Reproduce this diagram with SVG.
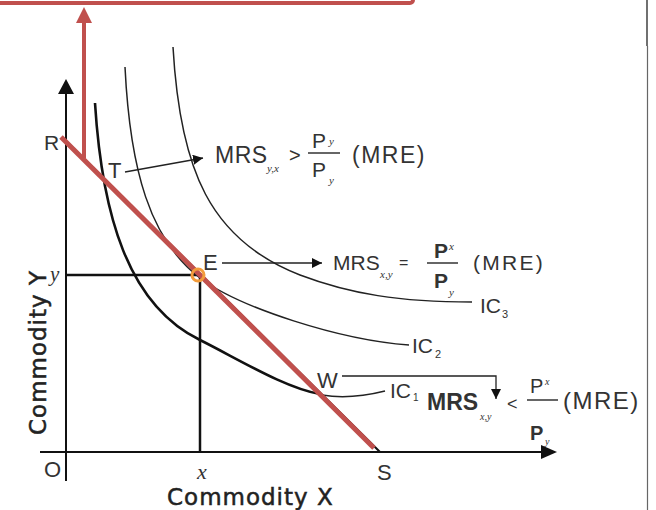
<svg xmlns="http://www.w3.org/2000/svg" width="656" height="510" viewBox="0 0 656 510">
<style>
.t{font-family:"Liberation Sans",Arial,sans-serif;fill:#333}
.it{font-family:"Liberation Serif","Times New Roman",serif;font-style:italic;fill:#333}
.ax{font-family:"DejaVu Sans",sans-serif;fill:#222;stroke:#222;stroke-width:0.5;letter-spacing:1px}
.ic{fill:none;stroke:#222;stroke-width:1.5}
.ln{fill:none;stroke:#111;stroke-width:2.5}
.ar{fill:none;stroke:#222;stroke-width:1.3}
</style>
<defs>
<marker id="ah" viewBox="0 0 10 10" refX="10" refY="5" markerWidth="10" markerHeight="10" markerUnits="userSpaceOnUse" orient="auto">
<path d="M0,0 L10,5 L0,10 Z" fill="#111"/>
</marker>
</defs>
<rect width="656" height="510" fill="#fff"/>
<line x1="647" y1="0" x2="647" y2="46" stroke="#111" stroke-width="1.2"/>
<line x1="647.5" y1="46" x2="647.5" y2="510" stroke="#666" stroke-width="1.2"/>
<rect x="-6" y="-40" width="419" height="43" rx="3" fill="#fff" stroke="#c0504d" stroke-width="4"/>

<g id="axes">
<line x1="66" y1="481" x2="66" y2="93" stroke="#111" stroke-width="2"/>
<path d="M66,79 L58,94 L74,94 Z" fill="#111"/>
<line x1="40" y1="452" x2="542" y2="452" stroke="#111" stroke-width="2"/>
<path d="M557,452 L541,445 L541,459 Z" fill="#111"/>
</g>

<g id="guides">
<line class="ln" x1="66" y1="275" x2="198" y2="275"/>
<line class="ln" x1="200" y1="275" x2="200" y2="452"/>
</g>

<g id="IC3"><path class="ic" d="M173,47 C180,170 210,240 300,275 C350,294 400,302 472,302"/><text class="t" x="480" y="313" font-size="21">IC</text><text class="t" x="502" y="318" font-size="11">3</text></g>
<g id="IC2"><path class="ic" d="M125,67 C130,170 150,240 200,278 C240,308 340,340 409,345"/><text class="t" x="412" y="353" font-size="21">IC</text><text class="t" x="435" y="358" font-size="11">2</text></g>
<g id="IC1"><path fill="none" stroke="#111" stroke-width="2.6" d="M95,103 C102,215 128,305 200,340 C240,360 285,388 320,394"/><path class="ic" d="M322,395 C345,399 365,396 385,391"/><text class="t" x="390" y="398" font-size="21">IC</text><text class="t" x="413" y="401" font-size="10">1</text></g>

<g id="budget">
<line x1="62" y1="137" x2="380" y2="452" stroke="#111" stroke-width="2"/>
<line x1="61" y1="137" x2="374" y2="448" stroke="#c0504d" stroke-width="5"/>
<text class="t" x="44" y="150" font-size="21">R</text>
<text class="t" x="377" y="480" font-size="22">S</text>
</g>

<g id="E"><circle cx="198" cy="275" r="6" fill="none" stroke="#f39c3b" stroke-width="3"/><text class="t" x="203" y="270" font-size="22">E</text></g>
<g id="T"><text class="t" x="108" y="178" font-size="22">T</text></g>
<g id="W"><text class="t" x="317" y="388" font-size="22">W</text></g>

<g id="connectors">
<line class="ar" x1="125" y1="172" x2="203" y2="158" marker-end="url(#ah)"/>
<line class="ar" x1="222" y1="263" x2="322" y2="263" marker-end="url(#ah)"/>
<polyline class="ar" points="342,376 496,376 496,399" marker-end="url(#ah)"/>
<line x1="84" y1="158" x2="84" y2="22" stroke="#c0504d" stroke-width="4"/>
<path d="M84,7 L76,23 L92,23 Z" fill="#c0504d"/>
</g>

<g id="label1">
<text class="t" x="215" y="163" font-size="23" letter-spacing="0.5">MRS</text>
<text class="it" x="267" y="172" font-size="11">y,x</text>
<text class="t" x="289" y="162" font-size="20">&gt;</text>
<line x1="308" y1="153" x2="340" y2="153" stroke="#333" stroke-width="1.5"/>
<text class="t" x="312" y="148" font-size="21">P</text>
<text class="it" x="329" y="145" font-size="11">y</text>
<text class="t" x="312" y="177" font-size="21">P</text>
<text class="it" x="329" y="184" font-size="11">y</text>
<text class="t" x="352" y="163" font-size="23" letter-spacing="1.5">(MRE)</text>
</g>

<g id="label2">
<text class="t" x="333" y="270" font-size="21">MRS</text>
<text class="it" x="380" y="278" font-size="11">x,y</text>
<text class="t" x="399" y="268" font-size="16">=</text>
<line x1="427" y1="263" x2="458" y2="263" stroke="#333" stroke-width="1.5"/>
<text class="t" x="434" y="258" font-size="21" font-weight="bold">P</text>
<text class="it" x="449" y="250" font-size="11">x</text>
<text class="t" x="434" y="288" font-size="21" font-weight="bold">P</text>
<text class="it" x="449" y="296" font-size="11">y</text>
<text class="t" x="473" y="270" font-size="21" letter-spacing="2.3">(MRE)</text>
</g>

<g id="label3">
<text class="t" x="427" y="410" font-size="23" font-weight="bold">MRS</text>
<text class="it" x="480" y="420" font-size="10">x,y</text>
<text class="t" x="507" y="410" font-size="18">&lt;</text>
<line x1="527" y1="400" x2="558" y2="400" stroke="#333" stroke-width="1.5"/>
<text class="t" x="530" y="393" font-size="20">P</text>
<text class="it" x="545" y="385" font-size="10">x</text>
<text class="t" x="530" y="440" font-size="20" font-weight="bold">P</text>
<text class="it" x="545" y="445" font-size="10">y</text>
<text class="t" x="563" y="409" font-size="24" letter-spacing="1.5">(MRE)</text>
</g>

<g id="axis-labels">
<text class="t" x="44" y="477" font-size="22">O</text>
<text class="it" x="50" y="281" font-size="21">y</text>
<text class="it" x="197" y="479" font-size="22">x</text>
<text class="ax" x="167" y="505" font-size="23">Commodity X</text>
<text class="ax" transform="translate(46,435) rotate(-90)" x="0" y="0" font-size="23">Commodity Y</text>
</g>
</svg>
